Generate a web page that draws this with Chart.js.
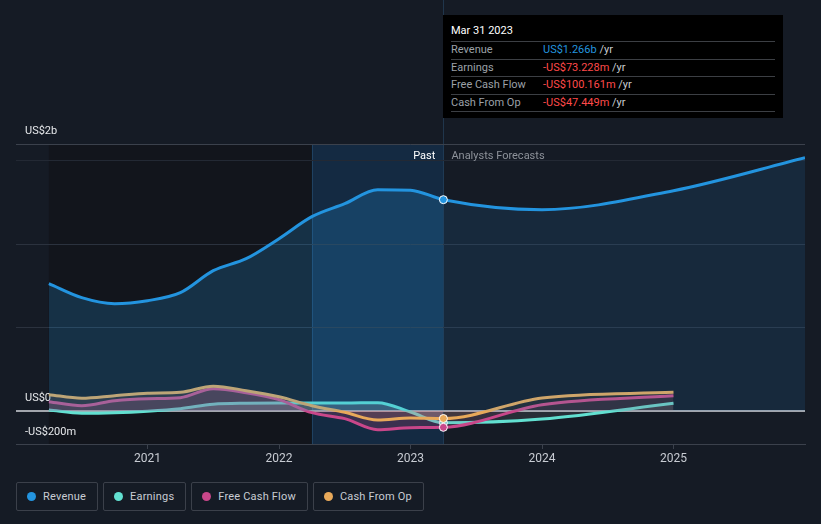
<!DOCTYPE html>
<html>
<head>
<meta charset="utf-8">
<script src="https://cdn.jsdelivr.net/npm/chart.js@4/dist/chart.umd.min.js"></script>
<style>
  html, body { margin: 0; padding: 0; background: #151b25; width: 821px; height: 524px; overflow: hidden; font-family: Roboto, "Noto Sans", sans-serif; }
  #wrap { position: relative; width: 821px; height: 524px; }
  #chart { position: absolute; left: 0; top: 0; }
  #tip { position: absolute; left: 443px; top: 15px; width: 340px; height: 103px; background: #000; color: #fff; font-size: 11px; box-sizing: border-box; padding: 0 8px; }
  #tip .title { height: 26px; line-height: 32px; }
  #tip .row { border-top: 1px solid #3c3f44; height: 16.5px; line-height: 16.5px; display: flex; }
  #tip .row:last-child { border-bottom: 1px solid #3c3f44; }
  #tip .lab { width: 92px; color: #9ca1a8; }
  #tip .unit { color: #c9ccd1; }
  #legend { position: absolute; left: 16px; top: 482px; display: flex; gap: 5px; }
  .item { height: 27px; border: 1px solid #3b404a; border-radius: 2px; display: flex; align-items: center; padding: 0 11px 0 10px; color: #c8ccd3; font-size: 11px; letter-spacing: 0.2px; }
  .dot { width: 9px; height: 9px; border-radius: 50%; margin-right: 7px; }
</style>
</head>
<body>
<div id="wrap">
  <canvas id="chart" width="821" height="470"></canvas>
  <div id="tip"></div>
  <div id="legend"></div>
</div>
<script>
// values in US$ millions
let pastDates = [2020.25, 2020.5, 2020.75, 2021, 2021.25, 2021.5, 2021.75, 2022, 2022.25, 2022.5, 2022.75, 2023, 2023.25];
let revenuePast = [762, 678, 642, 660, 708, 840, 912, 1032, 1164, 1242, 1326, 1323, 1266];
let earningsPast = [4, -15, -12, -3, 12, 39, 45, 46, 46, 46, 48, -8, -73];
let fcfPast = [54, 30, 60, 72, 78, 132, 108, 66, -12, -48, -114, -102, -100];
let cfoPast = [96, 75, 90, 105, 110, 147, 120, 84, 30, -10, -56, -44, -47];

let revenueForecastDates = [2024, 2025, 2026];
let revenueForecast = [1206, 1320, 1518];
let otherForecastDates = [2024, 2025];
let earningsForecast = [-50, 44];
let fcfForecast = [36, 90];
let cfoForecast = [76, 110];

let yearTicks = [2021, 2022, 2023, 2024, 2025];
let nowDate = 2023.25;
let highlightStart = 2022.25;

let series = [
    { name: "Revenue", color: "#2394df", fillPast: "rgba(35,148,223,0.22)", fillFut: "rgba(35,140,215,0.13)", past: revenuePast, fut: revenueForecast, futDates: revenueForecastDates, order: 0 },
    { name: "Earnings", color: "#62e0d1", fillPast: "rgba(170,190,190,0.28)", fillFut: "rgba(170,190,190,0.12)", past: earningsPast, fut: earningsForecast, futDates: otherForecastDates, order: 3 },
    { name: "Free Cash Flow", color: "#c9478a", fillPast: "rgba(201,71,127,0.22)", fillFut: "rgba(201,71,127,0.1)", past: fcfPast, fut: fcfForecast, futDates: otherForecastDates, order: 2 },
    { name: "Cash From Op", color: "#e8a95a", fillPast: "rgba(232,150,110,0.14)", fillFut: "rgba(232,169,90,0.07)", past: cfoPast, fut: cfoForecast, futDates: otherForecastDates, order: 1 }
];

function points(s) {
    let pts = pastDates.map((d, i) => ({ x: d, y: s.past[i] }));
    s.futDates.forEach((d, i) => pts.push({ x: d, y: s.fut[i] }));
    return pts;
}

let datasets = series.map(s => ({
    label: s.name,
    data: points(s),
    order: s.order,
    borderColor: s.color,
    borderWidth: 3,
    backgroundColor: s.fillPast,
    fill: "origin",
    cubicInterpolationMode: "monotone",
    pointRadius: ctx => (ctx.raw && ctx.raw.x === nowDate ? 4 : 0),
    pointBackgroundColor: s.color,
    pointBorderColor: "#ffffff",
    pointBorderWidth: 1,
    segment: {
        backgroundColor: ctx => (ctx.p0.parsed.x >= nowDate ? s.fillFut : s.fillPast)
    }
}));

let bands = {
    id: "bands",
    beforeDraw(chart) {
        let { ctx, chartArea: a, scales: { x } } = chart;
        let x0 = x.getPixelForValue(pastDates[0]);
        let x1 = x.getPixelForValue(highlightStart);
        let x2 = x.getPixelForValue(nowDate);
        ctx.save();
        ctx.fillStyle = "#12151c";
        ctx.fillRect(x0, a.top, x1 - x0, a.bottom - a.top);
        ctx.fillStyle = "rgba(20,70,120,0.36)";
        ctx.fillRect(x1, a.top, x2 - x1, a.bottom - a.top);
        ctx.fillStyle = "rgba(60,120,170,0.3)";
        ctx.fillRect(Math.round(x1), a.top, 1, a.bottom - a.top);
        ctx.fillRect(Math.round(x2), 0, 1, a.bottom);
        ctx.restore();
    },
    beforeDatasetsDraw(chart) {
        let { ctx, chartArea: a, scales: { y } } = chart;
        ctx.save();
        ctx.fillStyle = "#e6e8eb";
        ctx.font = "11px Roboto";
        ctx.textBaseline = "middle";
        ctx.fillText("US$2b", 25, 131);
        ctx.fillText("US$0", 25, 398);
        ctx.fillText("-US$200m", 25, 432);
        let y0 = Math.round(y.getPixelForValue(0));
        ctx.fillStyle = "#a2a6ad";
        ctx.fillRect(a.left, y0 - 1, a.right - a.left, 2);
        let xn = chart.scales.x.getPixelForValue(nowDate);
        ctx.textAlign = "right";
        ctx.fillStyle = "#ffffff";
        ctx.fillText("Past", xn - 8, 156);
        ctx.textAlign = "left";
        ctx.fillStyle = "#8d929a";
        ctx.fillText("Analysts Forecasts", xn + 8, 156);
        ctx.restore();
    }
};

let gridColors = { "1600": "#3b414c", "1500": "#232934", "1000": "#2b323e", "500": "#2b323e" };

new Chart(document.getElementById("chart"), {
    type: "line",
    data: { datasets: datasets },
    options: {
        responsive: false,
        devicePixelRatio: 1,
        animation: false,
        layout: { padding: { left: 16, right: 16, top: 144, bottom: 0 } },
        plugins: { legend: { display: false }, tooltip: { enabled: false } },
        scales: {
            x: {
                type: "linear",
                min: 2020,
                max: 2026,
                afterBuildTicks: s => { s.ticks = yearTicks.map(v => ({ value: v })); },
                afterFit: s => { s.height = 26; },
                grid: { drawOnChartArea: false, drawTicks: true, tickLength: 5, tickColor: "#3b414c" },
                border: { color: "#3b414c", width: 1 },
                ticks: { color: "#c8ccd3", font: { family: "Roboto", size: 12 }, padding: 3, callback: v => String(v) }
            },
            y: {
                min: -200,
                max: 1600,
                afterBuildTicks: s => { s.ticks = [-200, 0, 500, 1000, 1500, 1600].map(v => ({ value: v })); },
                afterFit: s => { s.width = 0; },
                ticks: { display: false },
                border: { display: false },
                grid: { drawTicks: false, color: c => gridColors[String(c.tick.value)] || "rgba(0,0,0,0)" }
            }
        }
    },
    plugins: [bands]
});

// tooltip box
let tipRows = [
    ["Revenue", "US$1.266b", "#2394df"],
    ["Earnings", "-US$73.228m", "#ff4a4a"],
    ["Free Cash Flow", "-US$100.161m", "#ff4a4a"],
    ["Cash From Op", "-US$47.449m", "#ff4a4a"]
];
let tip = document.getElementById("tip");
tip.innerHTML = '<div class="title">Mar 31 2023</div>' + tipRows.map(r =>
    `<div class="row"><span class="lab">${r[0]}</span><span style="color:${r[2]}">${r[1]}</span><span class="unit">&nbsp;/yr</span></div>`
).join("");

// legend
document.getElementById("legend").innerHTML = series.map(s =>
    `<div class="item"><span class="dot" style="background:${s.color}"></span>${s.name}</div>`
).join("");
</script>
</body>
</html>
